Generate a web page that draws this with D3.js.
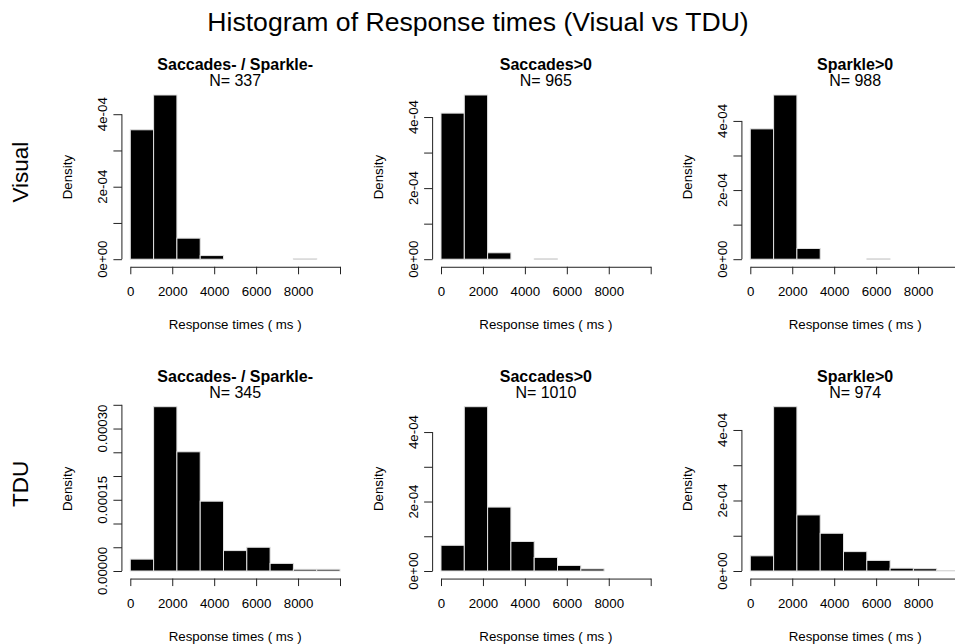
<!DOCTYPE html>
<html><head><meta charset="utf-8">
<script src="https://cdn.jsdelivr.net/npm/d3@7"></script>
<style>
body{margin:0;background:#fff}
svg{display:block}
text{font-family:"Liberation Sans",Arial,Helvetica,sans-serif;fill:#000}
</style>
</head><body>
<svg id="chart" width="955" height="644"></svg>
<script>
// ---------- data ----------
const chartTitle = "Histogram of Response times (Visual vs TDU)";
const rowLabels = ["Visual", "TDU"];
const panelTitles = ["Saccades- / Sparkle-", "Saccades>0", "Sparkle>0"];
const xLabel = "Response times ( ms )";
const yLabel = "Density";
const binEdges = [0, 1111.1, 2222.2, 3333.3, 4444.4, 5555.6, 6666.7, 7777.8, 8888.9, 10000];
const nVisual = [337, 965, 988];
const nTDU = [345, 1010, 974];
// densities in units of 1e-4
const visualNone  = [3.57, 4.53, 0.58, 0.10, 0, 0, 0, 0.02, 0];
const visualSacc  = [4.11, 4.62, 0.18, 0, 0.01, 0, 0, 0, 0];
const visualSpark = [3.77, 4.75, 0.31, 0, 0, 0.01, 0, 0, 0];
const tduNone     = [0.25, 3.46, 2.51, 1.47, 0.43, 0.50, 0.16, 0.036, 0.036];
const tduSacc     = [0.74, 4.73, 1.84, 0.85, 0.39, 0.16, 0.06, 0, 0];
const tduSpark    = [0.43, 4.66, 1.59, 1.07, 0.55, 0.30, 0.08, 0.065, 0.01];
const xTicks = [0, 2000, 4000, 6000, 8000, 10000];
const xTickLabels = ["0", "2000", "4000", "6000", "8000", ""];
const yTicksE = [0, 1e-4, 2e-4, 3e-4, 4e-4];
const yTickLabelsE = ["0e+00", "", "2e-04", "", "4e-04"];
const yTicksF = [0, 5e-5, 1e-4, 1.5e-4, 2e-4, 2.5e-4, 3e-4, 3.5e-4];
const yTickLabelsF = ["0.00000", "", "", "0.00015", "", "", "0.00030", ""];

// ---------- layout ----------
const svg = d3.select("#chart");
const colX0 = [130.3, 441, 750.3];   // pixel of x = 0 in each column
const xSpan = 209.7;                 // pixels for 0..10000
const rowY0 = [259.2, 571];          // pixel of density 0
const rowTop = [95, 406.7];          // pixel of tallest bar
const fs = 13.3;

const panels = [
  {row: 0, col: 0, dens: visualNone,  n: nVisual[0], ticks: yTicksE, labels: yTickLabelsE},
  {row: 0, col: 1, dens: visualSacc,  n: nVisual[1], ticks: yTicksE, labels: yTickLabelsE},
  {row: 0, col: 2, dens: visualSpark, n: nVisual[2], ticks: yTicksE, labels: yTickLabelsE},
  {row: 1, col: 0, dens: tduNone,     n: nTDU[0],    ticks: yTicksF, labels: yTickLabelsF},
  {row: 1, col: 1, dens: tduSacc,     n: nTDU[1],    ticks: yTicksE, labels: yTickLabelsE},
  {row: 1, col: 2, dens: tduSpark,    n: nTDU[2],    ticks: yTicksE, labels: yTickLabelsE}
];

svg.append("text").attr("x", 478).attr("y", 31).attr("text-anchor", "middle")
  .style("font-size", "26.6px").text(chartTitle);

rowLabels.forEach((lab, r) => {
  const cy = (rowY0[r] + rowTop[r]) / 2 - 5;
  svg.append("text").attr("transform", `translate(28,${cy}) rotate(-90)`)
    .attr("text-anchor", "middle").style("font-size", "22.5px").text(lab);
});

panels.forEach(p => {
  const x0 = colX0[p.col];
  const x = d3.scaleLinear().domain([0, 10000]).range([x0, x0 + xSpan]);
  const maxD = d3.max(p.dens) * 1e-4;
  const y = d3.scaleLinear().domain([0, maxD]).range([rowY0[p.row], rowTop[p.row]]);
  const plotTop = rowTop[p.row] - (rowY0[p.row] - rowTop[p.row]) * 0.04;
  const plotBot = rowY0[p.row] + (rowY0[p.row] - rowTop[p.row]) * 0.04;
  const axisX = x(-400);
  const g = svg.append("g");

  // bars
  const bins = p.dens.map((d, i) => ({x0: binEdges[i], x1: binEdges[i + 1], v: d * 1e-4}))
                     .filter(b => b.v > 0);
  g.selectAll("rect.bar").data(bins).join("rect").attr("class", "bar")
    .attr("x", b => x(b.x0)).attr("width", b => x(b.x1) - x(b.x0))
    .attr("y", b => y(b.v)).attr("height", b => Math.max(0.01, y(0) - y(b.v)))
    .attr("fill", "#000").attr("stroke", "#e2e2e2").attr("stroke-width", 1);

  // x axis
  const xa = g.append("g").attr("transform", `translate(0,${plotBot + 1})`)
    .call(d3.axisBottom(x).tickValues(xTicks).tickFormat((d, i) => xTickLabels[i])
      .tickSize(7.5).tickSizeOuter(0).tickPadding(12));
  xa.selectAll("text").style("font-size", fs + "px").attr("fill", "#000");
  xa.selectAll("path,line").attr("stroke", "#222");

  // y axis
  const ya = g.append("g").attr("transform", `translate(${axisX},0)`)
    .call(d3.axisLeft(y).tickValues(p.ticks).tickFormat("").tickSize(8.5));
  ya.select(".domain").remove();
  ya.selectAll("line").attr("stroke", "#222");
  ya.append("line").attr("x1", 0).attr("x2", 0)
    .attr("y1", y(p.ticks[0])).attr("y2", y(p.ticks[p.ticks.length - 1])).attr("stroke", "#222");
  p.ticks.forEach((t, i) => {
    if (!p.labels[i]) return;
    g.append("text").attr("transform", `translate(${axisX - 19.3},${y(t)}) rotate(-90)`)
      .attr("text-anchor", "middle").attr("dominant-baseline", "central")
      .style("font-size", fs + "px").text(p.labels[i]);
  });

  // labels
  const cx = (x(-400) + x(10400)) / 2;
  g.append("text").attr("x", cx).attr("y", plotBot + 63.5).attr("text-anchor", "middle")
    .style("font-size", fs + "px").text(xLabel);
  g.append("text").attr("transform", `translate(${x0 - 63},${(plotTop + plotBot) / 2}) rotate(-90)`)
    .attr("text-anchor", "middle").attr("dominant-baseline", "central")
    .style("font-size", fs + "px").text(yLabel);
  g.append("text").attr("x", cx).attr("y", plotTop - 18.5).attr("text-anchor", "middle")
    .style("font-size", "16px").style("font-weight", "bold").text(panelTitles[p.col]);
  g.append("text").attr("x", cx).attr("y", plotTop - 2.5).attr("text-anchor", "middle")
    .style("font-size", "16px").text("N= " + p.n);
});
</script>
</body></html>
